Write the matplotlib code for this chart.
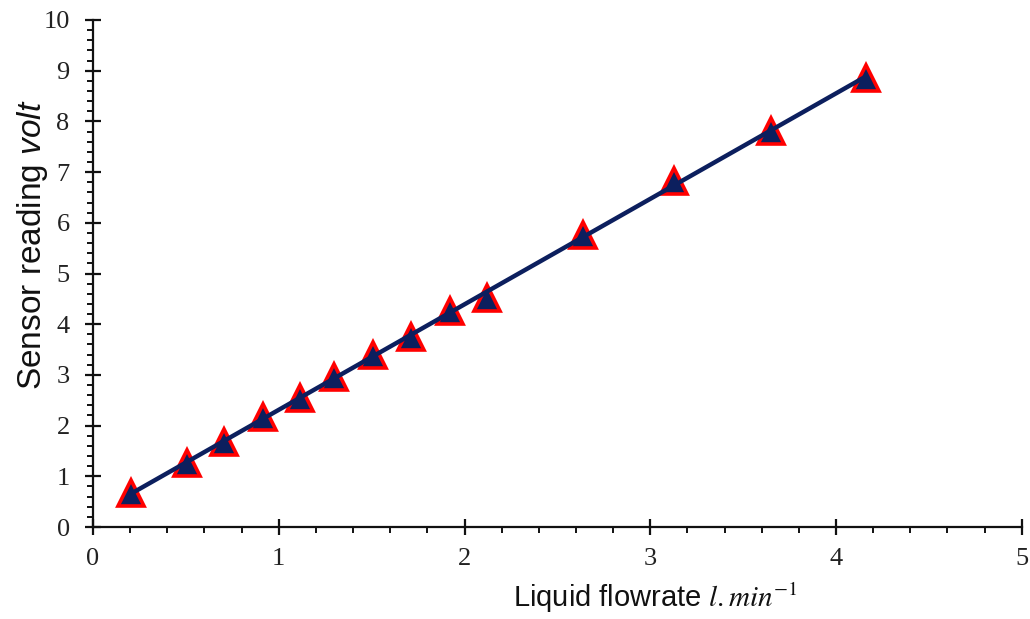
import numpy as np
import matplotlib
matplotlib.use("Agg")
import matplotlib.pyplot as plt
from matplotlib.ticker import MultipleLocator

# Data
flowrate = [0.205, 0.506, 0.705, 0.915, 1.114, 1.30, 1.51, 1.71, 1.92, 2.12, 2.64, 3.13, 3.65, 4.16]
reading = [0.67, 1.26, 1.68, 2.17, 2.54, 2.96, 3.40, 3.75, 4.26, 4.52, 5.76, 6.82, 7.81, 8.86]
x_ticks = [0, 1, 2, 3, 4, 5]
y_ticks = [0, 1, 2, 3, 4, 5, 6, 7, 8, 9, 10]

plt.rcParams['mathtext.fontset'] = 'custom'
plt.rcParams['mathtext.it'] = 'Liberation Sans:italic'
plt.rcParams['mathtext.rm'] = 'Liberation Sans'

fig = plt.figure(figsize=(10.30, 6.19), dpi=100)
ax = fig.add_axes([0.0903, 0.1486, 0.9017, 0.8191])

xs = np.array(flowrate)
ys = np.array(reading)
coef = np.polyfit(xs, ys, 1)
fit_x = np.array([xs.min(), xs.max()])
fit_y = np.polyval(coef, fit_x)

ax.plot(xs, ys, linestyle='none', marker='^', markersize=19,
        markerfacecolor='#0c1f5e', markeredgecolor='#ff0000', markeredgewidth=2.6, zorder=3)
ax.plot(fit_x, fit_y, color='#0c1f5e', linewidth=3.2, zorder=4, solid_capstyle='butt')

ax.set_xlim(0, 5)
ax.set_ylim(0, 10)
ax.set_xticks(x_ticks)
ax.set_yticks(y_ticks)
ax.xaxis.set_minor_locator(MultipleLocator(0.2))
ax.yaxis.set_minor_locator(MultipleLocator(0.2))

for s in ['top', 'right']:
    ax.spines[s].set_visible(False)
for s in ['left', 'bottom']:
    ax.spines[s].set_linewidth(1.6)
    ax.spines[s].set_color('#111111')

ax.tick_params(which='major', direction='inout', length=11.5, width=1.6, color='#111111')
ax.tick_params(which='minor', direction='out', length=4.5, width=1.4, color='#111111')
ax.tick_params(axis='x', which='major', pad=9)
ax.tick_params(axis='y', which='major', pad=11)
for lab in ax.get_xticklabels() + ax.get_yticklabels():
    lab.set_fontfamily('Liberation Serif')
    lab.set_fontsize(19)
    lab.set_color('#222222')

fig.text(656 / 1030, 1 - 598 / 619, r'Liquid flowrate $l.min^{-1}$', ha='center', va='center',
         fontsize=21, family='Liberation Sans', math_fontfamily='stix', color='#111111')
fig.text(33 / 1030, 1 - 245 / 619, r'Sensor reading $volt$', ha='center', va='center', rotation=90,
         fontsize=24, family='Liberation Sans', color='#111111')

fig.savefig('out.png', dpi=100)
